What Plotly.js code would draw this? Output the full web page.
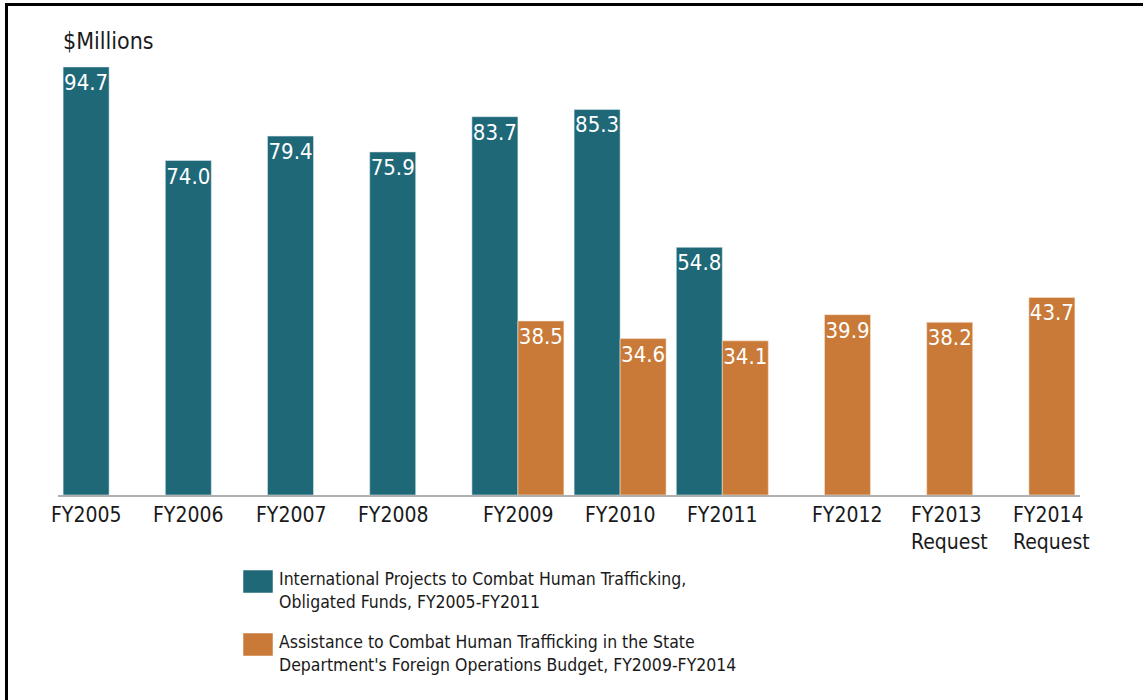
<!DOCTYPE html>
<html>
<head>
<meta charset="utf-8">
<script src="https://cdn.plot.ly/plotly-3.0.1.min.js"></script>
<style>
  html, body { margin: 0; padding: 0; background: #fff; }
  #wrap { position: relative; width: 1143px; height: 700px; overflow: hidden; }
  #chart { position: absolute; left: 0; top: 0; width: 1143px; height: 700px; }
  #frame { position: absolute; left: 5px; top: 3px; width: 1200px; height: 800px;
           border-top: 3px solid #000; border-left: 3px solid #000; pointer-events: none; }
</style>
</head>
<body>
<div id="wrap">
  <div id="chart"></div>
  <div id="frame"></div>
</div>
<script>
// ---- data ----
const categories = ["FY2005", "FY2006", "FY2007", "FY2008", "FY2009", "FY2010", "FY2011", "FY2012", "FY2013", "FY2014"];
const tickLabels = ["FY2005", "FY2006", "FY2007", "FY2008", "FY2009", "FY2010", "FY2011", "FY2012", "FY2013<br>Request", "FY2014<br>Request"];
const obligatedFunds = [94.7, 74.0, 79.4, 75.9, 83.7, 85.3, 54.8, null, null, null];
const stateBudget = [null, null, null, null, 38.5, 34.6, 34.1, 39.9, 38.2, 43.7];
const seriesNames = [
  "International Projects to Combat Human Trafficking,<br>Obligated Funds, FY2005-FY2011",
  "Assistance to Combat Human Trafficking in the State<br>Department's Foreign Operations Budget, FY2009-FY2014"
];
const unitLabel = "$Millions";

// ---- style / layout constants ----
const W = 1143, H = 700;
const M = { l: 58, r: 63, t: 43, b: 205 };
const plotW = W - M.l - M.r, plotH = H - M.t - M.b;
const BARGAP = 0.1;
const TEAL = "#1e6878", ORANGE = "#c97a39";
const FONT = "'Liberation Sans Narrow', 'Arial Narrow', 'DejaVu Sans Condensed', sans-serif";
const TEXTCOL = "#1a1a1a";
const px2x = x => (x - M.l) / plotW;           // page px -> paper x
const py2y = y => (H - M.b - y) / plotH;       // page px -> paper y
const barW = plotW / categories.length * (1 - BARGAP) / 2;

const common = {
  type: "bar",
  x: categories,
  texttemplate: "%{y:.1f}",
  textposition: "inside",
  insidetextanchor: "end",
  textangle: 0,
  constraintext: "none",
  textfont: { family: FONT, size: 22, color: "#ffffff" },
  hoverinfo: "x+y",
  showlegend: false
};

const traces = [
  Object.assign({}, common, { y: obligatedFunds, name: seriesNames[0],
    marker: { color: TEAL, line: { color: "rgba(220,235,240,0.7)", width: 0.8 } } }),
  Object.assign({}, common, { y: stateBudget, name: seriesNames[1],
    marker: { color: ORANGE, line: { color: "rgba(250,230,210,0.7)", width: 0.8 } } })
];

// category labels, centred on whichever bars are present
const annotations = categories.map((c, i) => {
  const a = obligatedFunds[i] != null, b = stateBudget[i] != null;
  const shift = (a && b) ? 0 : (a ? -barW / 2 : barW / 2);
  return {
    x: c, xref: "x", y: 0, yref: "paper", yanchor: "top", xanchor: "center",
    xshift: shift, yshift: -6, text: tickLabels[i], showarrow: false, align: "left",
    font: { family: FONT, size: 21, color: TEXTCOL }
  };
});

annotations.push({
  x: px2x(61), y: py2y(56), xref: "paper", yref: "paper", xanchor: "left", yanchor: "bottom",
  text: unitLabel, showarrow: false, font: { family: FONT, size: 23, color: TEXTCOL }
});

// legend (swatches + text)
const legendRows = [{ top: 570, color: TEAL }, { top: 633, color: ORANGE }];
const shapes = [];
legendRows.forEach((r, i) => {
  shapes.push({
    type: "rect", xref: "paper", yref: "paper",
    x0: px2x(243), x1: px2x(273), y0: py2y(r.top), y1: py2y(r.top + 23),
    fillcolor: r.color, line: { color: "rgba(255,255,255,0.5)", width: 1 }
  });
  annotations.push({
    x: px2x(277), y: py2y(r.top - 3), xref: "paper", yref: "paper", xanchor: "left", yanchor: "top",
    text: seriesNames[i], showarrow: false, align: "left",
    font: { family: FONT, size: 17.5, color: TEXTCOL }
  });
});

const layout = {
  width: W, height: H,
  margin: M,
  paper_bgcolor: "#ffffff", plot_bgcolor: "#ffffff",
  barmode: "group", bargap: BARGAP, bargroupgap: 0,
  xaxis: { type: "category", range: [-0.5, categories.length - 0.5], fixedrange: true,
           showticklabels: false, ticks: "", showgrid: false, zeroline: false,
           showline: true, linecolor: "#b0b0b0", linewidth: 1.5 },
  yaxis: { range: [0, 100], showticklabels: false, showgrid: false, zeroline: false, showline: false, ticks: "" },
  showlegend: false,
  annotations: annotations,
  shapes: shapes
};

Plotly.newPlot("chart", traces, layout, { displayModeBar: false, staticPlot: true });
</script>
</body>
</html>
